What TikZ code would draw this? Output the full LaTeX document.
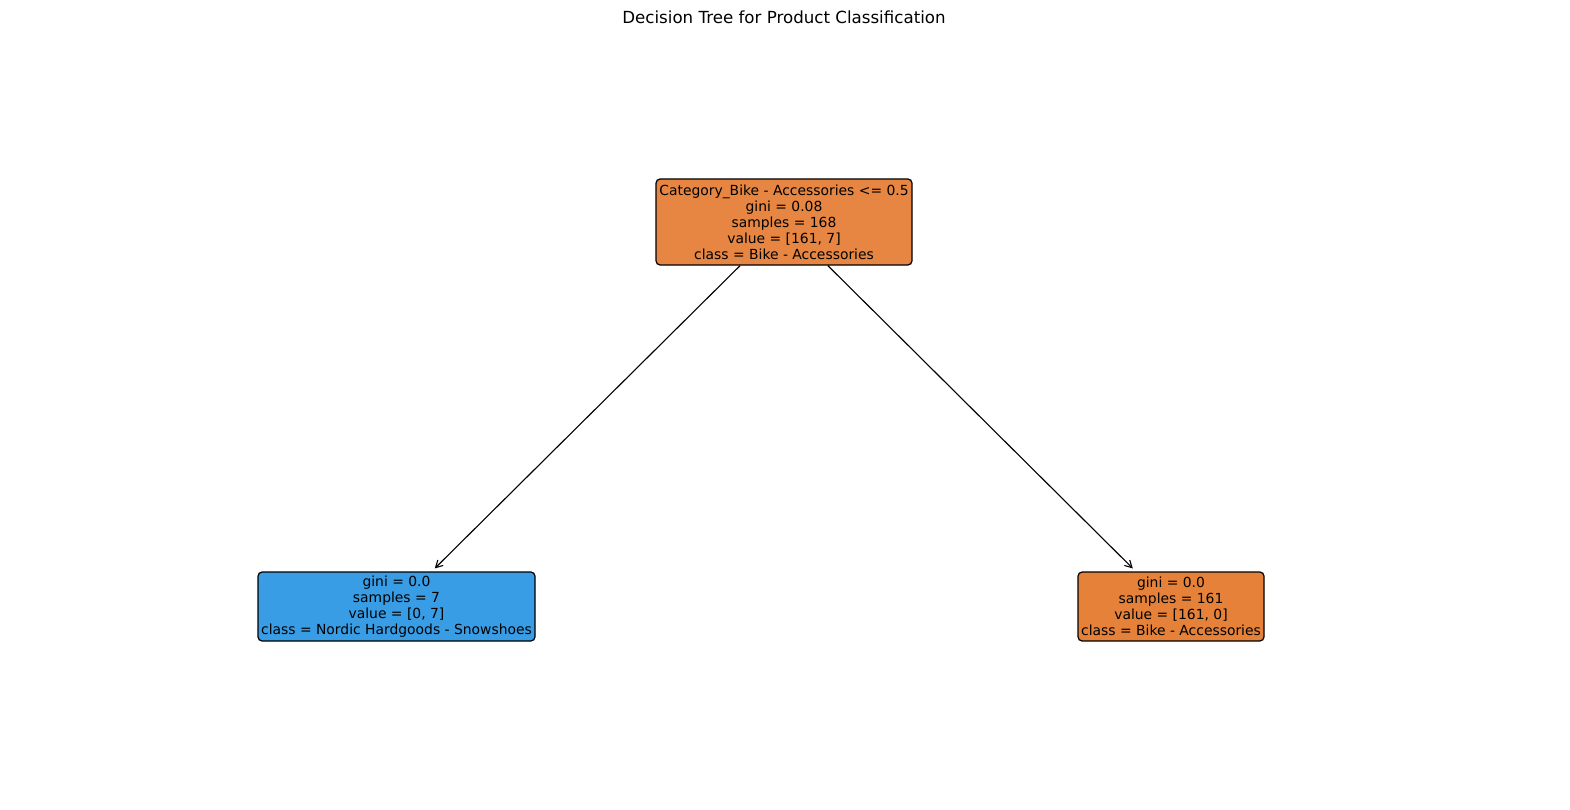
\documentclass[tikz,border=0pt]{standalone}
\usepackage{fontspec}
\setmainfont{DejaVu Sans}
\usetikzlibrary{arrows.meta}
\definecolor{rootor}{RGB}{230,134,66}
\definecolor{leafor}{RGB}{229,129,57}
\definecolor{leafbl}{RGB}{57,157,229}
\begin{document}
\begin{tikzpicture}[x=0.72pt,y=-0.72pt,
  treebox/.style={draw=black, line width=0.9pt, rounded corners=3pt, inner sep=0pt,
    align=center, font=\fontsize{10pt}{11.5pt}\selectfont, text=black},
  treearrow/.style={draw=black, line width=0.8pt, -{Straight Barb[length=5pt,width=5.5pt]}, shorten >=3pt}]
\useasboundingbox (0,0) rectangle (1570,810);
\node[font=\fontsize{12pt}{14pt}\selectfont] (title) at (784,17) {Decision Tree for Product Classification};
\node[treebox, fill=rootor, minimum width=256*0.72pt, minimum height=86*0.72pt] (root) at (784,222)
  {Category\_Bike - Accessories <= 0.5\\gini = 0.08\\samples = 168\\value = [161, 7]\\class = Bike - Accessories};
\node[treebox, fill=leafbl, minimum width=277*0.72pt, minimum height=69*0.72pt] (left) at (396.5,606.5)
  {gini = 0.0\\samples = 7\\value = [0, 7]\\class = Nordic Hardgoods - Snowshoes};
\node[treebox, fill=leafor, minimum width=186*0.72pt, minimum height=69*0.72pt] (right) at (1171,606.5)
  {gini = 0.0\\samples = 161\\value = [161, 0]\\class = Bike - Accessories};
\draw[treearrow] (root) -- (left);
\draw[treearrow] (root) -- (right);
\end{tikzpicture}
\end{document}
